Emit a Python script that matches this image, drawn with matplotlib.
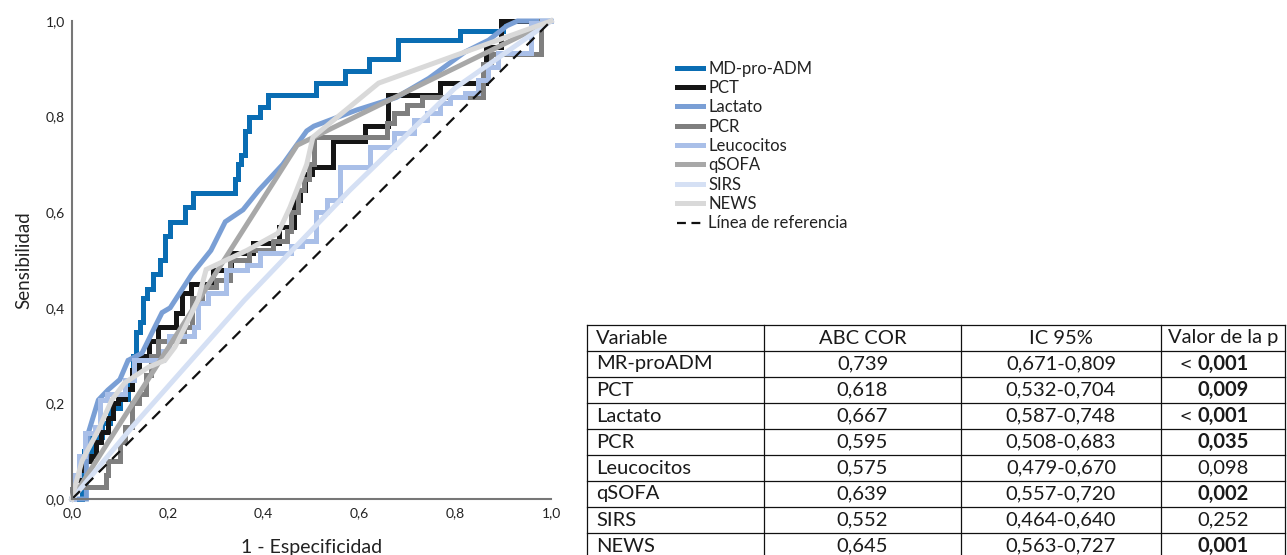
import matplotlib
matplotlib.use("Agg")
import matplotlib.pyplot as plt
from matplotlib.lines import Line2D

plt.rcParams['font.family'] = ['Lato', 'DejaVu Sans']

# ROC curves (1 - especificidad, sensibilidad)
fpr_mdpro = [0, 0.02, 0.02, 0.03, 0.055, 0.07, 0.09, 0.11, 0.125, 0.13, 0.136, 0.146, 0.152, 0.163, 0.177,
             0.19, 0.198, 0.21, 0.232, 0.24, 0.267, 0.336, 0.344, 0.35, 0.357, 0.365, 0.372, 0.388, 0.395, 0.424,
             0.51, 0.51, 0.57, 0.57, 0.62, 0.62, 0.68, 0.68, 0.81, 0.81, 0.90, 0.90, 1.0]
tpr_mdpro = [0, 0, 0.06, 0.1, 0.13, 0.16, 0.19, 0.21, 0.25, 0.3, 0.35, 0.37, 0.42, 0.44, 0.47,
             0.5, 0.55, 0.58, 0.58, 0.61, 0.64, 0.64, 0.67, 0.7, 0.72, 0.77, 0.8, 0.8, 0.82, 0.845,
             0.845, 0.87, 0.87, 0.895, 0.895, 0.92, 0.92, 0.96, 0.96, 0.98, 0.98, 1.0, 1.0]

fpr_pct = [0, 0.01, 0.02, 0.03, 0.05, 0.05, 0.07, 0.08, 0.09, 0.10, 0.12, 0.13, 0.15, 0.17, 0.19, 0.205, 0.23,
           0.23, 0.267, 0.32, 0.345, 0.41, 0.455, 0.47, 0.483, 0.49, 0.51, 0.54, 0.55, 0.60, 0.624, 0.643,
           0.677, 0.745, 0.79, 0.85, 0.88, 0.91, 1.0]
tpr_pct = [0, 0.04, 0.06, 0.08, 0.09, 0.12, 0.14, 0.17, 0.2, 0.21, 0.23, 0.27, 0.3, 0.33, 0.36, 0.36, 0.39,
           0.43, 0.45, 0.48, 0.515, 0.535, 0.57, 0.625, 0.646, 0.68, 0.695, 0.695, 0.75, 0.75, 0.78, 0.78,
           0.845, 0.845, 0.87, 0.87, 0.945, 1.0, 1.0]

fpr_lac = [0, 0.03, 0.03, 0.034, 0.055, 0.075, 0.1, 0.117, 0.146, 0.173, 0.188, 0.205, 0.25, 0.29, 0.32,
           0.357, 0.39, 0.44, 0.49, 0.505, 0.595, 0.677, 0.745, 0.82, 0.87, 0.908, 0.93, 1.0]
tpr_lac = [0, 0.0, 0.08, 0.138, 0.207, 0.228, 0.25, 0.29, 0.305, 0.36, 0.39, 0.40, 0.47, 0.52, 0.58,
           0.605, 0.646, 0.70, 0.77, 0.78, 0.814, 0.84, 0.88, 0.935, 0.96, 0.99, 1.0, 1.0]

fpr_pcr = [0, 0.0, 0.02, 0.07, 0.07, 0.08, 0.10, 0.10, 0.12, 0.13, 0.15, 0.16, 0.17, 0.19, 0.22, 0.246, 0.253,
           0.288, 0.315, 0.345, 0.392, 0.449, 0.449, 0.465, 0.48, 0.49, 0.5, 0.51, 0.65, 0.664, 0.68, 0.72,
           0.74, 0.856, 0.858, 0.89, 0.96, 1.0]
tpr_pcr = [0, 0.02, 0.025, 0.025, 0.05, 0.08, 0.08, 0.12, 0.15, 0.2, 0.22, 0.26, 0.3, 0.33, 0.33, 0.36, 0.42,
           0.444, 0.458, 0.5, 0.52, 0.54, 0.56, 0.6, 0.646, 0.67, 0.7, 0.757, 0.757, 0.786, 0.807, 0.824,
           0.84, 0.84, 0.91, 0.93, 0.93, 1.0]

fpr_leu = [0, 0.01, 0.02, 0.036, 0.058, 0.058, 0.09, 0.13, 0.13, 0.19, 0.19, 0.215, 0.25, 0.26, 0.267, 0.30,
           0.344, 0.386, 0.40, 0.455, 0.46, 0.50, 0.518, 0.545, 0.576, 0.60, 0.643, 0.70, 0.727, 0.754, 0.783,
           0.795, 0.845, 0.852, 0.887, 0.89, 0.956, 0.962, 1.0]
tpr_leu = [0, 0.05, 0.09, 0.138, 0.15, 0.207, 0.22, 0.25, 0.29, 0.29, 0.31, 0.34, 0.34, 0.36, 0.41, 0.43,
           0.48, 0.49, 0.515, 0.515, 0.53, 0.54, 0.60, 0.626, 0.695, 0.695, 0.736, 0.766, 0.793, 0.807, 0.828,
           0.84, 0.85, 0.877, 0.904, 0.933, 0.933, 0.996, 1.0]

fpr_qsofa = [0, 0.47, 1.0]
tpr_qsofa = [0, 0.74, 1.0]

fpr_sirs = [0, 0.125, 0.36, 0.58, 0.8, 1.0]
tpr_sirs = [0, 0.15, 0.416, 0.646, 0.86, 1.0]

fpr_news = [0, 0.006, 0.021, 0.055, 0.083, 0.11, 0.16, 0.194, 0.215, 0.236, 0.263, 0.28, 0.365, 0.43, 0.455,
            0.49, 0.503, 0.64, 1.0]
tpr_news = [0, 0.025, 0.08, 0.144, 0.207, 0.243, 0.276, 0.29, 0.318, 0.36, 0.416, 0.48, 0.52, 0.556, 0.61,
            0.70, 0.757, 0.87, 1.0]

ref_line = [0, 1]

# table
tab_header = ['Variable', 'ABC COR', 'IC 95%', 'Valor de la p']
tab_var = ['MR-proADM', 'PCT', 'Lactato', 'PCR', 'Leucocitos', 'qSOFA', 'SIRS', 'NEWS']
tab_auc = ['0,739', '0,618', '0,667', '0,595', '0,575', '0,639', '0,552', '0,645']
tab_ci = ['0,671-0,809', '0,532-0,704', '0,587-0,748', '0,508-0,683', '0,479-0,670', '0,557-0,720',
          '0,464-0,640', '0,563-0,727']
tab_p = ['0,001', '0,009', '0,001', '0,035', '0,098', '0,002', '0,252', '0,001']
tab_p_less = [True, False, True, False, False, False, False, False]
tab_p_bold = [True, True, True, True, False, True, False, True]

curves = [
    ('MD-pro-ADM', fpr_mdpro, tpr_mdpro, '#0a6db3', 'steps-mid'),
    ('PCT', fpr_pct, tpr_pct, '#151515', 'steps-mid'),
    ('Lactato', fpr_lac, tpr_lac, '#7a9fd5', 'default'),
    ('PCR', fpr_pcr, tpr_pcr, '#7f7f7f', 'steps-mid'),
    ('Leucocitos', fpr_leu, tpr_leu, '#a9bfe8', 'steps-mid'),
    ('qSOFA', fpr_qsofa, tpr_qsofa, '#a8a8a8', 'default'),
    ('SIRS', fpr_sirs, tpr_sirs, '#d5e0f4', 'default'),
    ('NEWS', fpr_news, tpr_news, '#d9d9d9', 'default'),
]

W, H = 1287, 555
fig = plt.figure(figsize=(W / 100, H / 100), dpi=100)
ax = fig.add_axes([72 / W, 1 - 499 / H, 479 / W, 478 / H])

handles = []
for name, x, y, col, ds in curves:
    ax.plot(x, y, color=col, lw=3.6, drawstyle=ds, solid_joinstyle='miter', clip_on=False)
    handles.append(Line2D([], [], color=col, lw=3.6, label=name))
ax.plot(ref_line, ref_line, color='#111111', lw=1.6, ls=(0, (5, 3.5)), clip_on=False)
handles.append(Line2D([], [], color='#111111', lw=1.6, ls=(0, (4, 2.5)), label='Línea de referencia'))

ax.set_xlim(0, 1)
ax.set_ylim(0, 1)
ticks = [0, 0.2, 0.4, 0.6, 0.8, 1.0]
labels = ['0,0', '0,2', '0,4', '0,6', '0,8', '1,0']
ax.set_xticks(ticks, labels)
ax.set_yticks(ticks, labels)
ax.tick_params(length=0, labelsize=10, colors='#222222')
ax.tick_params(axis='x', pad=6)
ax.tick_params(axis='y', pad=5)
for s in ['top', 'right']:
    ax.spines[s].set_visible(False)
for s in ['left', 'bottom']:
    ax.spines[s].set_color('#777777')
    ax.spines[s].set_linewidth(1.5)
ax.set_xlabel('1 - Especificidad', fontsize=14, color='#222222', labelpad=14)
ax.set_ylabel('Sensibilidad', fontsize=13.5, color='#222222', labelpad=10)

fig.legend(handles=handles, loc='upper left', bbox_to_anchor=(670 / W, 1 - 54 / H),
           frameon=False, fontsize=12, handlelength=1.6, handletextpad=0.3,
           labelspacing=0.2, borderaxespad=0, labelcolor='#222222')

# table in pixel coordinates
tx = fig.add_axes([0, 0, 1, 1])
tx.set_xlim(0, W)
tx.set_ylim(H, 0)
tx.axis('off')
col_edges = [587, 764, 961, 1161, 1285]
row_h = 26
top = 325
nrows = len(tab_var) + 1
for xe in col_edges:
    tx.plot([xe, xe], [top, top + nrows * row_h], color='#111111', lw=0.9, clip_on=False)
for i in range(nrows + 1):
    tx.plot([col_edges[0], col_edges[-1]], [top + i * row_h] * 2, color='#111111', lw=0.9, clip_on=False)

fs = 14.5
tc = '#1a1a1a'
centers = [(col_edges[i] + col_edges[i + 1]) / 2 for i in range(4)]
yc = top + row_h / 2
tx.text(col_edges[0] + 9, yc, tab_header[0], fontsize=fs, color=tc, va='center', ha='left')
for j in range(1, 4):
    tx.text(centers[j], yc, tab_header[j], fontsize=fs, color=tc, va='center', ha='center')
for i in range(len(tab_var)):
    yc = top + (i + 1) * row_h + row_h / 2
    tx.text(col_edges[0] + 9, yc, tab_var[i], fontsize=fs, color=tc, va='center', ha='left')
    tx.text(centers[1], yc, tab_auc[i], fontsize=fs, color=tc, va='center', ha='center')
    tx.text(centers[2], yc, tab_ci[i], fontsize=fs, color=tc, va='center', ha='center')
    fw = 'bold' if tab_p_bold[i] else 'normal'
    if tab_p_less[i]:
        tx.text(centers[3] - 31, yc, '<', fontsize=10.5, color=tc, va='center', ha='right',
                family='DejaVu Sans')
        tx.text(centers[3] - 26, yc, tab_p[i], fontsize=fs, color=tc, va='center', ha='left', fontweight=fw)
    else:
        tx.text(centers[3], yc, tab_p[i], fontsize=fs, color=tc, va='center', ha='center', fontweight=fw)

fig.savefig('out.png', dpi=100)
